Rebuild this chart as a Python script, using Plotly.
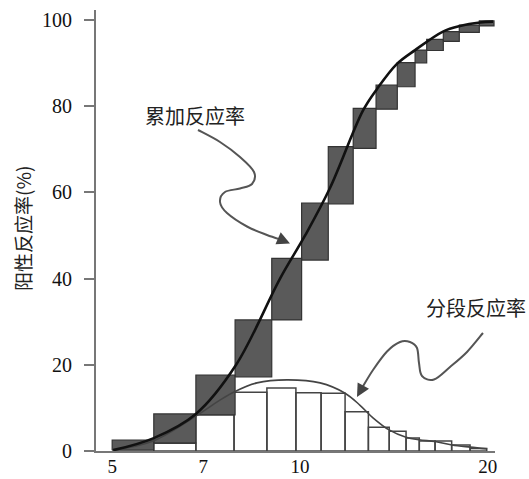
import plotly.graph_objects as go

# ---------------- data ----------------
# cumulative response boxes (dark): interval edges on dose axis, lower / upper level (%)
dark_edges = [5.0, 5.83, 6.81, 7.87, 9.01, 10.06, 11.10, 12.17, 13.24, 14.32,
              15.29, 15.96, 16.97, 18.00, 19.38, 20.46]
dark_bottom = [0.2, 1.9, 8.4, 17.2, 30.4, 44.3, 57.3, 70.2, 79.3, 84.5,
               90.0, 92.9, 95.0, 97.1, 98.6]
dark_top = [2.5, 8.6, 17.6, 30.4, 44.7, 57.5, 70.6, 79.5, 84.9, 90.1,
            93.0, 95.5, 97.3, 98.8, 99.8]

# segment response bars (white)
white_edges = [5.83, 6.81, 7.84, 8.85, 9.85, 10.81, 11.81, 12.87, 13.90, 14.79,
               15.53, 16.46, 17.50, 18.73, 19.92]
white_height = [1.8, 8.4, 13.6, 14.6, 13.5, 13.4, 9.1, 5.5, 4.6, 3.0,
                2.3, 2.3, 1.4, 0.6]

# cumulative response curve
cum_x = [5.02, 5.83, 6.81, 7.90, 9.29, 10.19, 11.17, 12.62, 13.29, 14.30,
         15.29, 16.95, 18.05, 19.43, 20.39]
cum_y = [0.2, 3.0, 8.6, 20.0, 40.0, 50.0, 61.0, 79.0, 84.0, 89.8,
         93.0, 97.3, 98.6, 99.4, 99.6]

# segment response curve
seg_x = [5.02, 5.83, 6.81, 7.44, 7.84, 8.53, 9.53, 10.77, 11.81, 12.48,
         13.09, 13.89, 14.79, 15.51, 16.46, 17.52, 18.73, 19.94]
seg_y = [0.2, 2.4, 8.1, 11.8, 13.7, 15.8, 16.5, 15.8, 13.4, 10.6,
         7.7, 4.9, 3.2, 2.6, 2.2, 1.4, 0.9, 0.5]

x_ticks = [5, 7, 10, 20]
y_ticks = [0, 20, 40, 60, 80, 100]

y_title = "阳性反应率(%)"
label_cum = "累加反应率"
label_seg = "分段反应率"

# ---------------- layout geometry ----------------
W, H = 529, 479
ML, MR, MT, MB = 96, 34, 10, 28
PW, PH = W - ML - MR, H - MT - MB
X_RANGE_LOG = [0.67308, 1.3125]
Y_RANGE = [0, 102.3]


def boxes(edges_lo, edges_hi, lo, hi):
    xs, ys = [], []
    for x0, x1, b, t in zip(edges_lo, edges_hi, lo, hi):
        xs += [x0, x1, x1, x0, x0, None]
        ys += [b, b, t, t, b, None]
    return xs, ys


dxs, dys = boxes(dark_edges[:-1], dark_edges[1:], dark_bottom, dark_top)
wxs, wys = boxes(white_edges[:-1], white_edges[1:], [0] * len(white_height), white_height)

fig = go.Figure()
fig.add_trace(go.Scatter(x=wxs, y=wys, mode="lines", fill="toself",
                         fillcolor="white", line=dict(color="#444", width=1.5),
                         hoverinfo="skip"))
fig.add_trace(go.Scatter(x=dxs, y=dys, mode="lines", fill="toself",
                         fillcolor="#5a5a5a", line=dict(color="#333", width=1.2),
                         hoverinfo="skip"))
fig.add_trace(go.Scatter(x=seg_x, y=seg_y, mode="lines",
                         line=dict(color="#444", width=1.6, shape="spline", smoothing=1.0)))
fig.add_trace(go.Scatter(x=cum_x, y=cum_y, mode="lines",
                         line=dict(color="#111", width=2.6, shape="spline", smoothing=1.0)))


# ---------------- decorative curved arrows (pixel sketch -> paper) ----------------
def to_paper(p):
    return ((p[0] - ML) / PW, (H - MB - p[1]) / PH)


def smooth_path(pix):
    pts = [to_paper(p) for p in pix]
    d = "M %.5f,%.5f" % pts[0]
    n = len(pts)
    for i in range(n - 1):
        p0 = pts[i - 1] if i > 0 else pts[i]
        p1, p2 = pts[i], pts[i + 1]
        p3 = pts[i + 2] if i + 2 < n else pts[i + 1]
        c1 = (p1[0] + (p2[0] - p0[0]) / 6, p1[1] + (p2[1] - p0[1]) / 6)
        c2 = (p2[0] - (p3[0] - p1[0]) / 6, p2[1] - (p3[1] - p1[1]) / 6)
        d += " C %.5f,%.5f %.5f,%.5f %.5f,%.5f" % (c1 + c2 + p2)
    return d


arrow1 = [(198, 130), (220, 142), (240, 157), (254, 172), (252, 184), (240, 188.5),
          (225, 192), (220, 202), (227, 213), (247, 226.5), (267, 235), (282, 240)]
arrow2 = [(483, 333), (467, 352), (450, 367), (434, 379.5), (422, 376), (419, 363),
          (417, 348), (410, 342), (400, 342), (387, 351.5), (373, 370), (362, 388)]

for path in (arrow1, arrow2):
    fig.add_shape(type="path", xref="paper", yref="paper", path=smooth_path(path),
                  line=dict(color="#555", width=2))

for tip, tail in (((290, 243.5), arrow1[-1]), ((357, 397), arrow2[-1])):
    tx, ty = to_paper(tip)
    fig.add_annotation(x=tx, y=ty, xref="paper", yref="paper", text="",
                       showarrow=True, ax=tail[0] - tip[0], ay=tail[1] - tip[1],
                       arrowhead=2, arrowsize=1.3, arrowwidth=2, arrowcolor="#444")

cjk = "Noto Sans CJK SC"
for text, pos in ((label_cum, (195, 115)), (label_seg, (476, 307))):
    px, py = to_paper(pos)
    fig.add_annotation(x=px, y=py, xref="paper", yref="paper", text=text,
                       showarrow=False, xanchor="center", yanchor="middle",
                       font=dict(family=cjk, size=20, color="#222"))
fig.add_annotation(x=to_paper((22, 230))[0], y=to_paper((22, 229))[1],
                   xref="paper", yref="paper", xanchor="center", yanchor="middle",
                   text=y_title, textangle=-90, showarrow=False,
                   font=dict(family=cjk, size=19, color="#222"))

serif = "Liberation Serif"
fig.update_layout(
    width=W, height=H,
    margin=dict(l=ML, r=MR, t=MT, b=MB, pad=0, autoexpand=False),
    paper_bgcolor="white", plot_bgcolor="white",
    showlegend=False,
    xaxis=dict(type="log", range=X_RANGE_LOG, tickvals=x_ticks,
               ticktext=[str(v) for v in x_ticks], ticks="", showgrid=False,
               zeroline=False, showline=True, linecolor="#777", linewidth=2,
               automargin=False, ticklabelstandoff=-3,
               tickfont=dict(family=serif, size=19, color="#111")),
    yaxis=dict(range=Y_RANGE, tickvals=y_ticks, ticks="outside", ticklen=10,
               tickwidth=2, tickcolor="#777", showgrid=False, zeroline=False,
               showline=True, linecolor="#777", linewidth=2,
               ticklabelstandoff=8, automargin=False,
               tickfont=dict(family=serif, size=20, color="#111")),
)

fig.write_html("out.html",
               config={"displayModeBar": False},
               post_script="document.body.style.margin='0';"
                           "document.body.style.overflow='hidden';")
